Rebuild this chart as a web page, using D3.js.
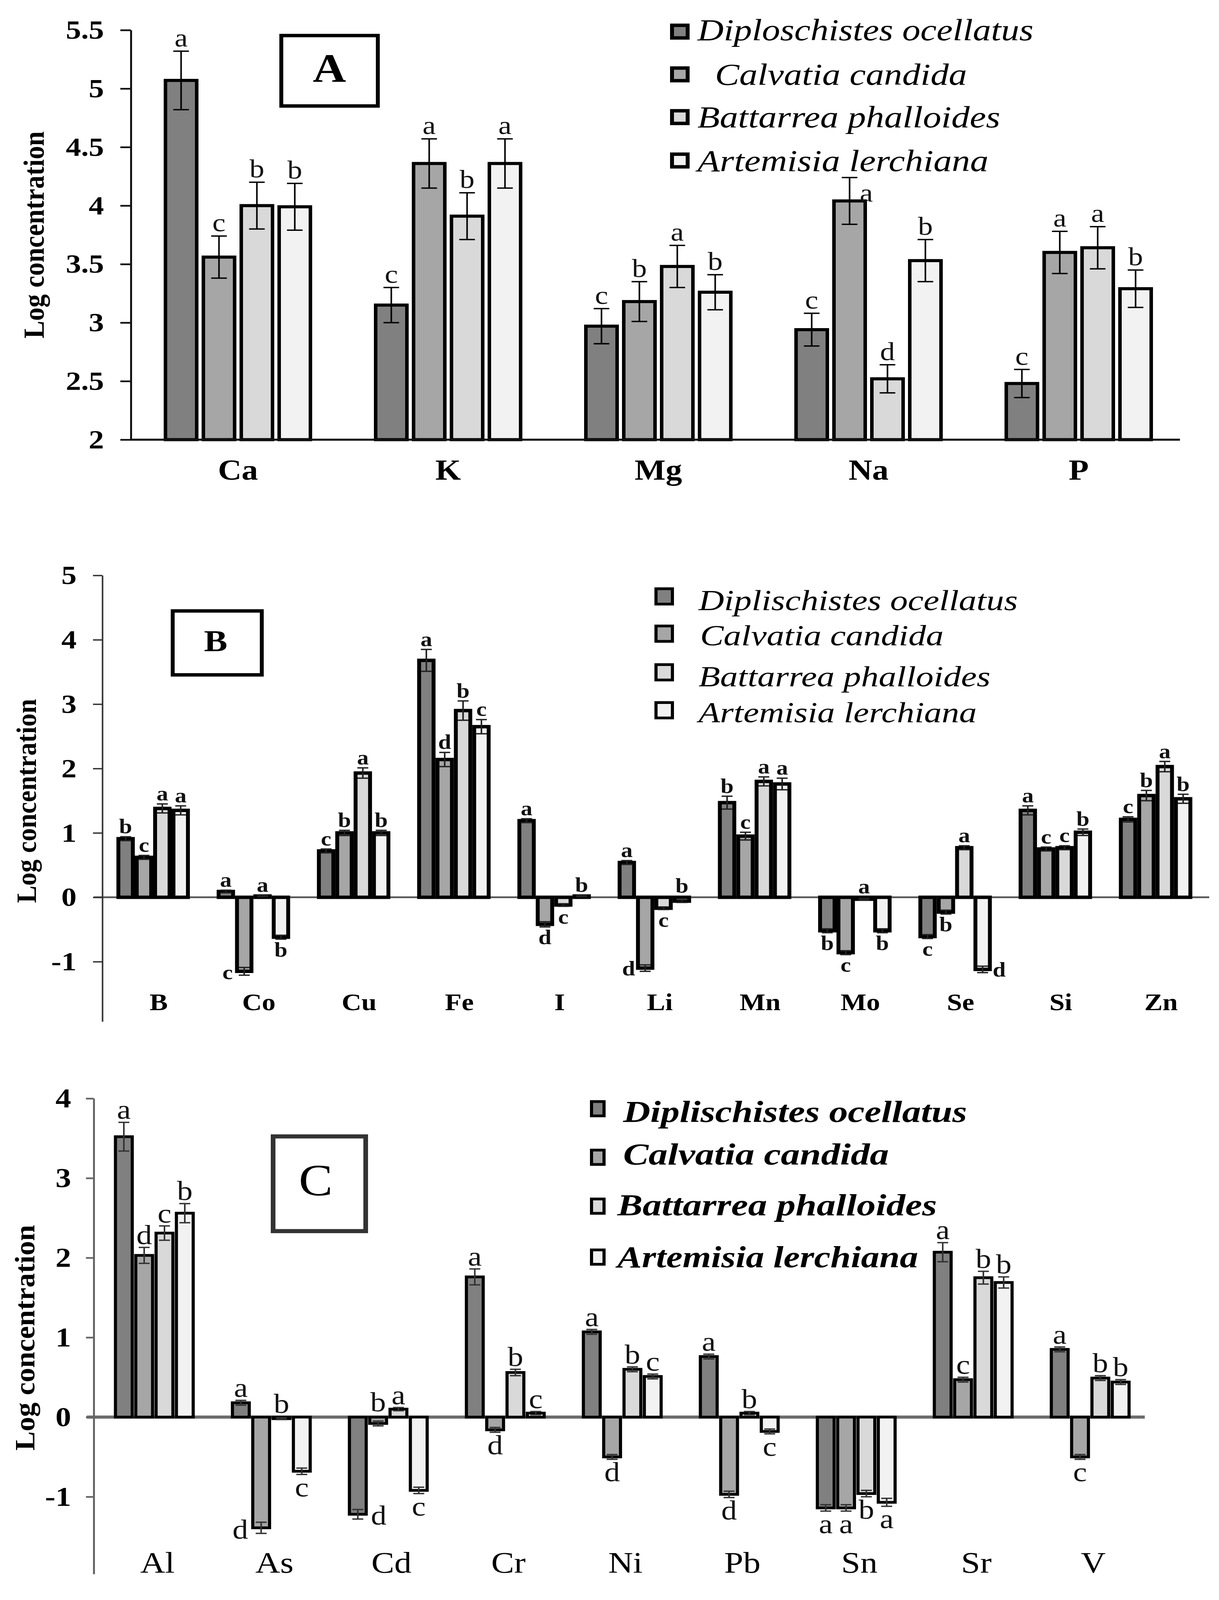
<!DOCTYPE html>
<html>
<head>
<meta charset="utf-8">
<script src="https://cdn.jsdelivr.net/npm/d3@7"></script>
<style>
  html, body { margin: 0; padding: 0; background: #fff; overflow: hidden; }
  svg { display: block; width: 100vw; height: 100vh; }
  text { font-family: "Liberation Serif", "Times New Roman", serif; }
</style>
</head>
<body>
<script>
// species, in the order of the bars
const seriesA = ["Diploschistes ocellatus", "Calvatia candida", "Battarrea phalloides", "Artemisia lerchiana"];
const seriesBC = ["Diplischistes ocellatus", "Calvatia candida", "Battarrea phalloides", "Artemisia lerchiana"];
const fills = ["#808080", "#a6a6a6", "#d9d9d9", "#f2f2f2"];

// panel A - macro elements
const elementsA = ["Ca", "K", "Mg", "Na", "P"];
const valuesA = [
  [5.07, 3.15, 2.97, 2.94, 2.48],
  [3.56, 4.36, 3.18, 4.04, 3.60],
  [4.00, 3.91, 3.48, 2.52, 3.64],
  [3.99, 4.36, 3.26, 3.53, 3.29]
];
const errorsA = [
  [0.25, 0.15, 0.15, 0.14, 0.12],
  [0.18, 0.21, 0.17, 0.20, 0.18],
  [0.20, 0.20, 0.18, 0.12, 0.18],
  [0.20, 0.21, 0.15, 0.18, 0.16]
];
const lettersA = [
  ["a", "c", "c", "c", "c"],
  ["c", "a", "b", "a", "a"],
  ["b", "b", "a", "d", "a"],
  ["b", "a", "b", "b", "b"]
];
const ticksA = [2, 2.5, 3, 3.5, 4, 4.5, 5, 5.5];

// panel B - trace elements
const elementsB = ["B", "Co", "Cu", "Fe", "I", "Li", "Mn", "Mo", "Se", "Si", "Zn"];
const valuesB = [
  [0.91, 0.09, 0.72, 3.68, 1.19, 0.54, 1.47, -0.52, -0.61, 1.35, 1.21],
  [0.62, -1.15, 1.00, 2.14, -0.42, -1.10, 0.95, -0.86, -0.23, 0.75, 1.58],
  [1.38, 0.02, 1.93, 2.90, -0.12, -0.17, 1.80, -0.03, 0.77, 0.77, 2.03],
  [1.35, -0.62, 1.00, 2.65, 0.02, -0.06, 1.76, -0.52, -1.12, 1.01, 1.53]
];
const errorsB = [
  [0.03, 0.02, 0.03, 0.17, 0.03, 0.03, 0.10, 0.03, 0.03, 0.07, 0.04],
  [0.03, 0.06, 0.04, 0.11, 0.04, 0.05, 0.06, 0.03, 0.03, 0.03, 0.08],
  [0.07, 0.01, 0.08, 0.15, 0.02, 0.02, 0.07, 0.01, 0.03, 0.03, 0.08],
  [0.07, 0.03, 0.04, 0.11, 0.01, 0.02, 0.09, 0.03, 0.05, 0.05, 0.07]
];
const lettersB = [
  ["b", "a", "c", "a", "a", "a", "b", "b", "c", "a", "c"],
  ["c", "c", "b", "d", "d", "d", "c", "c", "b", "c", "b"],
  ["a", "a", "a", "b", "c", "c", "a", "a", "a", "c", "a"],
  ["a", "b", "b", "c", "b", "b", "a", "b", "d", "b", "b"]
];
const ticksB = [-1, 0, 1, 2, 3, 4, 5];

// panel C - heavy metals
const elementsC = ["Al", "As", "Cd", "Cr", "Ni", "Pb", "Sn", "Sr", "V"];
const valuesC = [
  [3.52, 0.18, -1.22, 1.76, 1.07, 0.76, -1.14, 2.07, 0.85],
  [2.03, -1.39, -0.08, -0.16, -0.50, -0.97, -1.14, 0.47, -0.50],
  [2.31, -0.02, 0.10, 0.56, 0.60, 0.05, -0.96, 1.75, 0.49],
  [2.56, -0.68, -0.92, 0.05, 0.51, -0.18, -1.07, 1.69, 0.44]
];
const errorsC = [
  [0.18, 0.03, 0.06, 0.10, 0.03, 0.03, 0.04, 0.12, 0.03],
  [0.10, 0.07, 0.03, 0.03, 0.03, 0.04, 0.04, 0.03, 0.03],
  [0.09, 0.01, 0.02, 0.04, 0.03, 0.02, 0.04, 0.08, 0.03],
  [0.12, 0.04, 0.04, 0.02, 0.03, 0.03, 0.05, 0.07, 0.03]
];
const lettersC = [
  ["a", "a", "d", "a", "a", "a", "a", "a", "a"],
  ["d", "d", "b", "d", "d", "d", "a", "c", "c"],
  ["c", "b", "a", "b", "b", "b", "b", "b", "b"],
  ["b", "c", "c", "c", "c", "c", "a", "b", "b"]
];
const ticksC = [-1, 0, 1, 2, 3, 4];

// the drawing is laid out on the 3120 x 4680 grid and stretched to the window
const svg = d3.select("body").append("svg")
  .attr("viewBox", "0 0 3120 4680")
  .attr("preserveAspectRatio", "none");

function panel(o) {
  const g = svg.append("g");
  const x = d3.scaleBand().domain(o.cats).range(o.xRange);
  const gw = 3 * o.pitch + o.barW;
  const xs = d3.scaleBand().domain(d3.range(4)).range([-gw / 2, gw / 2])
    .paddingInner(1 - o.barW / o.pitch);
  const y = d3.scaleLinear().domain(o.yDomain).range(o.yRange);

  const rows = [];
  o.cats.forEach((c, i) => {
    for (let s = 0; s < 4; s++) {
      rows.push({ c, s, v: o.values[s][i], e: o.errors[s][i], l: o.letters[s][i] });
    }
  });
  const cx = d => x(d.c) + x.bandwidth() / 2 + xs(d.s) + xs.bandwidth() / 2;

  // zero line behind the bars (B, C)
  if (o.zero) {
    g.append("line")
      .attr("x1", o.zero.x1).attr("x2", o.zero.x2)
      .attr("y1", y(o.base)).attr("y2", y(o.base))
      .attr("stroke", o.zero.color).attr("stroke-width", o.zero.width);
  }

  g.selectAll(".bar")
    .data(rows)
    .join("rect")
    .attr("class", "bar")
    .attr("x", d => x(d.c) + x.bandwidth() / 2 + xs(d.s))
    .attr("width", xs.bandwidth())
    .attr("y", d => y(Math.max(d.v, o.base)))
    .attr("height", d => Math.abs(y(d.v) - y(o.base)))
    .attr("fill", d => fills[d.s])
    .attr("stroke", "#000")
    .attr("stroke-width", o.barStroke);

  // error bars
  const eb = g.selectAll(".err").data(rows).join("g").attr("class", "err")
    .attr("stroke", o.errColor).attr("stroke-width", o.errWidth);
  eb.append("line")
    .attr("x1", cx).attr("x2", cx)
    .attr("y1", d => y(d.v - d.e)).attr("y2", d => y(d.v + d.e));
  eb.append("line")
    .attr("x1", d => cx(d) - o.errCap / 2).attr("x2", d => cx(d) + o.errCap / 2)
    .attr("y1", d => y(d.v + d.e)).attr("y2", d => y(d.v + d.e));
  eb.append("line")
    .attr("x1", d => cx(d) - o.errCap / 2).attr("x2", d => cx(d) + o.errCap / 2)
    .attr("y1", d => y(d.v - d.e)).attr("y2", d => y(d.v - d.e));

  // significance letters; a letter that would run into the legend or into
  // the element names is set beside its bar instead
  const lb = o.legend.box;
  g.selectAll(".letter")
    .data(rows)
    .join("text")
    .attr("class", "letter")
    .each(function (d) {
      let lx = cx(d);
      let ly;
      if (d.v >= o.base - 0.1) {
        ly = y(Math.max(d.v, o.base) + d.e) - o.letterGap;
        if (lb && lx > lb[0] && lx < lb[2] && ly - o.letterSize * 0.5 < lb[3]) {
          lx = cx(d) + o.errCap / 2 + o.letterSize * 0.3;
          ly = y(d.v + d.e) + o.letterSize * 0.92;
        }
      } else {
        ly = y(d.v - d.e) + o.letterGap + o.letterSize * 0.68;
        if (ly > o.letterLimit) {
          const side = d.s === 1 ? -1 : 1;
          lx = cx(d) + side * (xs.bandwidth() / 2 + o.letterSize * 0.4);
          ly = y(d.v - d.e) + o.letterSize * 0.2;
        }
      }
      d3.select(this).attr("x", lx).attr("y", ly);
    })
    .attr("text-anchor", "middle")
    .attr("font-size", o.letterSize)
    .attr("font-weight", o.letterWeight)
    .attr("fill", "#111")
    .text(d => d.l);

  // x axis line for A drawn on top of the bars
  if (o.baseLine) {
    g.append("line")
      .attr("x1", o.baseLine.x1).attr("x2", o.baseLine.x2)
      .attr("y1", y(o.base)).attr("y2", y(o.base))
      .attr("stroke", o.baseLine.color).attr("stroke-width", o.baseLine.width);
  }

  // y axis
  const ax = g.append("g")
    .attr("transform", `translate(${o.axisX},0)`)
    .call(d3.axisLeft(y).tickValues(o.ticks).tickFormat(d => String(d))
      .tickSize(o.tickLen).tickSizeOuter(0).tickPadding(o.tickPad));
  ax.select(".domain").attr("stroke", o.axisColor).attr("stroke-width", o.axisWidth);
  ax.selectAll(".tick line").attr("stroke", o.axisColor).attr("stroke-width", o.axisWidth);
  ax.selectAll(".tick text")
    .attr("font-family", "Liberation Serif, Times New Roman, serif")
    .attr("font-size", o.tickSize)
    .attr("font-weight", "bold")
    .attr("fill", "#000");

  // category labels
  g.selectAll(".cat")
    .data(o.cats)
    .join("text")
    .attr("class", "cat")
    .attr("x", c => x(c) + x.bandwidth() / 2 + o.catDx)
    .attr("y", o.catY)
    .attr("text-anchor", "middle")
    .attr("font-size", o.catSize)
    .attr("font-weight", o.catWeight)
    .text(c => c);

  // y title
  g.append("text")
    .attr("transform", `translate(${o.title.x},${o.title.y}) rotate(-90)`)
    .attr("text-anchor", "middle")
    .attr("font-size", o.title.size)
    .attr("font-weight", "bold")
    .attr("textLength", o.title.len)
    .attr("lengthAdjust", "spacingAndGlyphs")
    .text("Log concentration");

  // panel letter box
  g.append("rect")
    .attr("x", o.box.x).attr("y", o.box.y)
    .attr("width", o.box.w).attr("height", o.box.h)
    .attr("fill", "none").attr("stroke", o.box.color).attr("stroke-width", o.box.sw);
  g.append("text")
    .attr("x", o.box.tx).attr("y", o.box.ty)
    .attr("text-anchor", "middle")
    .attr("font-size", o.box.size)
    .attr("font-weight", o.box.weight)
    .text(o.box.label);

  // legend
  const lg = g.selectAll(".leg").data(o.legend.names).join("g").attr("class", "leg");
  lg.append("rect")
    .attr("x", o.legend.sqX)
    .attr("y", (d, i) => o.legend.sqY[i])
    .attr("width", o.legend.sqW).attr("height", o.legend.sqH)
    .attr("fill", (d, i) => fills[i])
    .attr("stroke", "#000").attr("stroke-width", o.legend.sqStroke);
  lg.append("text")
    .attr("x", (d, i) => o.legend.tx[i])
    .attr("y", (d, i) => o.legend.ty[i])
    .attr("font-size", o.legend.size)
    .attr("font-style", "italic")
    .attr("font-weight", o.legend.weight)
    .attr("textLength", (d, i) => o.legend.len[i])
    .attr("lengthAdjust", "spacingAndGlyphs")
    .text(d => d);
}

panel({
  cats: elementsA, values: valuesA, errors: errorsA, letters: lettersA,
  xRange: [340, 3030], pitch: 97, barW: 80, barStroke: 9, base: 2,
  yDomain: [2, 5.5], yRange: [1286, 88], axisX: 335, ticks: ticksA,
  tickLen: 27, tickPad: 42, tickSize: 78, axisColor: "#111", axisWidth: 5,
  baseLine: { x1: 335, x2: 3020, color: "#111", width: 6 },
  errCap: 40, errWidth: 4, errColor: "#000",
  letterSize: 76, letterWeight: "normal", letterGap: 14, letterLimit: 1300,
  catY: 1403, catSize: 84, catWeight: "bold", catDx: 0,
  title: { x: 112, y: 687, size: 74, len: 606 },
  box: { x: 720, y: 104, w: 247, h: 206, sw: 10, color: "#000",
         tx: 843, ty: 240, size: 118, weight: "bold", label: "A" },
  legend: { names: seriesA, sqX: 1720, sqY: [74, 199, 324, 451], sqW: 40, sqH: 37, sqStroke: 10,
            tx: [1785, 1830, 1785, 1785], ty: [118, 248, 373, 500], len: [860, 645, 775, 745],
            size: 90, weight: "normal", box: [1700, 40, 2660, 520] }
});

panel({
  cats: elementsB, values: valuesB, errors: errorsB, letters: lettersB,
  xRange: [263.7, 3086], pitch: 47, barW: 37, barStroke: 10, base: 0,
  yDomain: [-1.93, 5], yRange: [2988, 1683], axisX: 262, ticks: ticksB,
  tickLen: 24, tickPad: 42, tickSize: 78, axisColor: "#333", axisWidth: 4,
  zero: { x1: 240, x2: 3095, color: "#555", width: 5 },
  errCap: 28, errWidth: 4, errColor: "#222",
  letterSize: 60, letterWeight: "bold", letterGap: 10, letterLimit: 2889,
  catY: 2955, catSize: 70, catWeight: "bold", catDx: 14,
  title: { x: 92, y: 2343, size: 72, len: 597 },
  box: { x: 442, y: 1787, w: 228, h: 187, sw: 10, color: "#000",
         tx: 552, ty: 1905, size: 90, weight: "bold", label: "B" },
  legend: { names: seriesBC, sqX: 1679, sqY: [1722, 1831, 1944, 2055], sqW: 42, sqH: 45, sqStroke: 8,
            tx: [1788, 1792, 1788, 1788], ty: [1785, 1887, 2007, 2113], len: [817, 623, 747, 712],
            size: 84, weight: "normal", box: null }
});

panel({
  cats: elementsC, values: valuesC, errors: errorsC, letters: lettersC,
  xRange: [245.3, 2940], pitch: 52, barW: 43, barStroke: 8, base: 0,
  yDomain: [-1.97, 4], yRange: [4604, 3213], axisX: 240, ticks: ticksC,
  tickLen: 20, tickPad: 38, tickSize: 80, axisColor: "#666", axisWidth: 5,
  zero: { x1: 222, x2: 2930, color: "#6b6b6b", width: 9 },
  errCap: 28, errWidth: 4, errColor: "#333",
  letterSize: 80, letterWeight: "normal", letterGap: 10, letterLimit: 4500,
  catY: 4600, catSize: 88, catWeight: "normal", catDx: 8,
  title: { x: 88, y: 3913, size: 72, len: 660 },
  box: { x: 699, y: 3324, w: 237, h: 277, sw: 12, color: "#333",
         tx: 808, ty: 3496, size: 130, weight: "normal", label: "C" },
  legend: { names: seriesBC, sqX: 1514, sqY: [3222, 3364, 3507, 3656], sqW: 32, sqH: 42, sqStroke: 8,
            tx: [1595, 1595, 1580, 1580], ty: [3282, 3406, 3555, 3706], len: [880, 680, 818, 770],
            size: 90, weight: "bold", box: null }
});
</script>
</body>
</html>
